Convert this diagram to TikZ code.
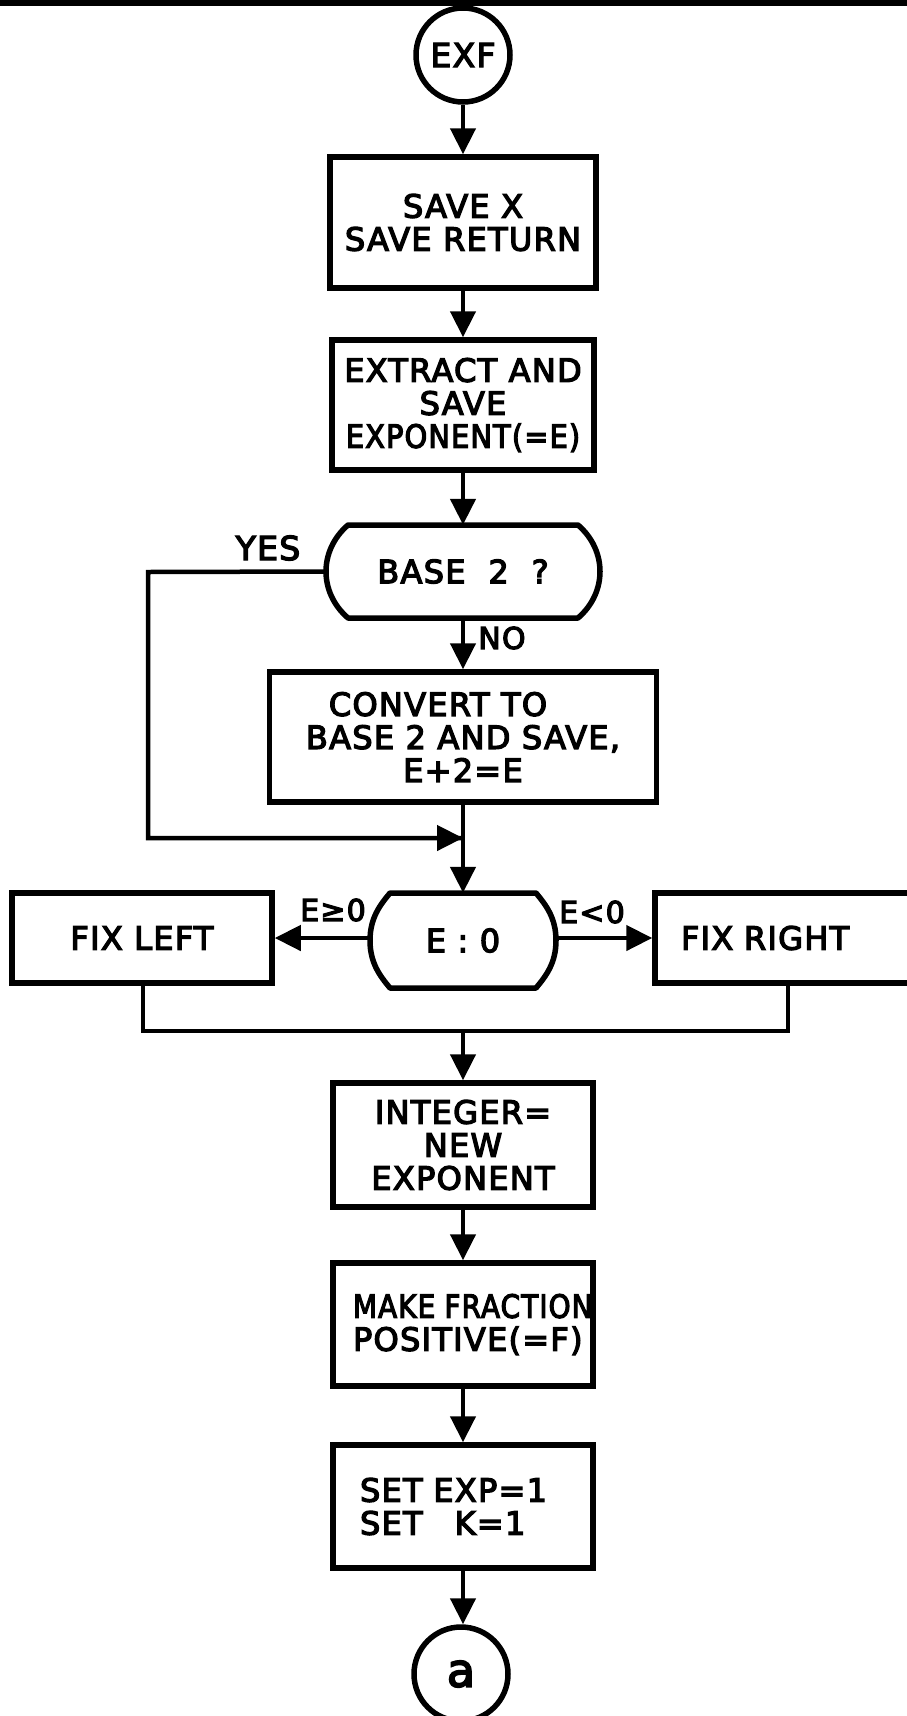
\documentclass[tikz,border=0pt]{standalone}
\usepackage{fontspec}
\newfontfamily\hand[FakeBold=4, LetterSpace=4]{DejaVu Sans}
\usetikzlibrary{arrows.meta}
\tikzset{
  proc/.style={draw, rectangle, line width=5.5pt, inner sep=0pt, align=center,
    font=\hand\fontsize{32}{33}\selectfont},
  decnode/.style={rectangle, inner sep=0pt, font=\hand\fontsize{32}{33}\selectfont},
  decline/.style={line width=5.5pt, line join=round},
  term/.style={draw, circle, line width=5.5pt, inner sep=0pt, minimum size=94pt},
  conn/.style={line width=4.5pt},
  arr/.style={conn, -{Triangle[length=26pt,width=25pt]}},
  lab/.style={inner sep=0pt, font=\hand\fontsize{30}{30}\selectfont}
}
\begin{document}
\begin{tikzpicture}[x=1pt,y=-1pt]
\useasboundingbox (0,0) rectangle (907,1716);
\fill[black] (0,0) rectangle (907,6);

% nodes
\node[term, font=\hand\fontsize{33}{33}\selectfont] (exf) at (463,55) {EXF};
\node[proc, minimum width=266pt, minimum height=131pt] (b1) at (463,222.5) {SAVE X\\SAVE RETURN};
\node[proc, minimum width=262pt, minimum height=130pt] (b2) at (463,405) {EXTRACT AND\\SAVE\\\scalebox{0.9}[1]{EXPONENT(=E)}};
\node[decnode, minimum width=274pt, minimum height=93pt] (d1) at (463,571.5) {BASE\ \ 2\ \ ?};
\draw[decline] (348,525) -- (578,525) .. controls (593,538) and (600,555) .. (600,571.5)
  .. controls (600,588) and (593,605) .. (578,618) -- (348,618)
  .. controls (333,605) and (326,588) .. (326,571.5)
  .. controls (326,555) and (333,538) .. (348,525) -- cycle;
\node[proc, minimum width=387pt, minimum height=130pt] (b3) at (463,737) {CONVERT TO\hspace*{50pt}\\BASE 2 AND SAVE,\\E+2=E};
\node[decnode, minimum width=186pt, minimum height=95pt] (d2) at (463,940.5) {E : 0};
\draw[decline] (390,893) -- (536,893) .. controls (546,905) and (556,918) .. (556,940.5)
  .. controls (556,963) and (546,976) .. (536,988) -- (390,988)
  .. controls (380,976) and (370,963) .. (370,940.5)
  .. controls (370,918) and (380,905) .. (390,893) -- cycle;
\node[proc, minimum width=260pt, minimum height=90pt] (fl) at (142,938) {FIX LEFT};
\node[proc, minimum width=266pt, minimum height=90pt, text width=250pt, align=left] (fr) at (788,938) {\hspace*{18pt}FIX RIGHT};
\node[proc, minimum width=260pt, minimum height=124pt] (b4) at (463,1145) {INTEGER=\\NEW\\EXPONENT};
\node[proc, minimum width=260pt, minimum height=123pt, text width=220pt, align=left] (b5) at (463,1324.5) {\mbox{\scalebox{0.87}[1]{MAKE FRACTION}}\\POSITIVE(=F)};
\node[proc, minimum width=260pt, minimum height=123pt, text width=206pt, align=left] (b6) at (463,1506.5) {SET EXP=1\\SET \ \ K=1};
\node[term, font=\hand\fontsize{46}{48}\selectfont] (a) at (461,1674) {a};

% connectors
\draw[arr] (exf) -- (b1);
\draw[arr] (b1) -- (b2);
\draw[arr] (b2.south) -- (d1.north);
\draw[arr] (d1.south) -- (b3.north);
\coordinate (ylc) at (148,572);
\coordinate (yrc) at (148,838);
\coordinate (yj) at (463,838);
\draw[conn] (d1.west) -- (ylc) -- (yrc) -- (yj);
\draw[arr] (360,838) -- (yj);
\draw[arr] (b3.south) -- (d2.north);
\draw[arr] (d2.west |- fl.east) -- (fl.east);
\draw[arr] (d2.east |- fr.west) -- (fr.west);
\coordinate (ml) at (143,1031);
\coordinate (mr) at (788,1031);
\coordinate (mj) at (463,1031);
\draw[conn] (fl.south -| ml) -- (ml) -- (mr) -- (fr.south);
\draw[arr] (mj) -- (b4.north);
\draw[arr] (b4) -- (b5);
\draw[arr] (b5) -- (b6);
\draw[arr] (b6.south) -- (b6.south |- a.north);

% labels
\node[lab, font=\hand\fontsize{33}{33}\selectfont] (yes) at (268,548) {YES};
\node[lab] (no) at (502,638) {NO};
\node[lab] (ge) at (333,910) {E≥0};
\node[lab] (lt) at (592,912) {E<0};
\end{tikzpicture}
\end{document}
